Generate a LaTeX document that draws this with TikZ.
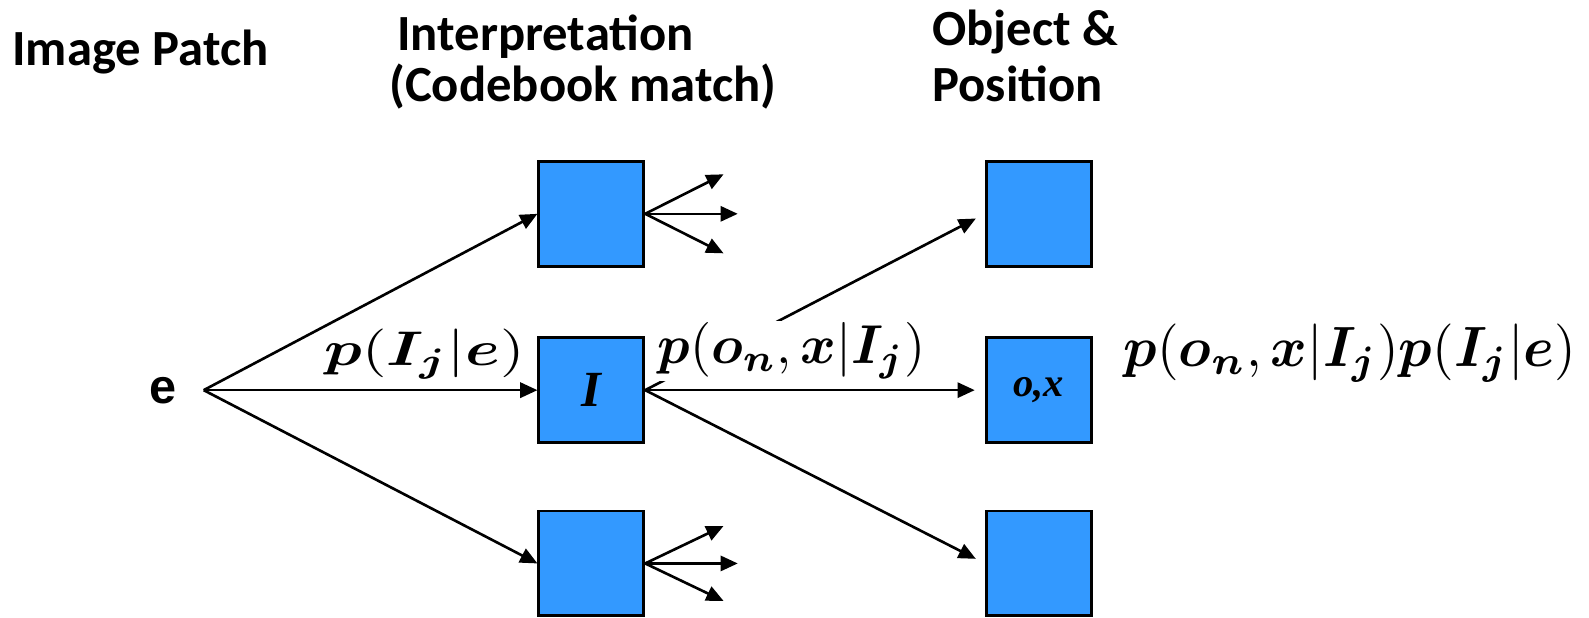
\documentclass[tikz,border=0pt]{standalone}
\usepackage{fontspec}
\usepackage{amsmath}
\usepackage{bm}
\usetikzlibrary{arrows.meta}

\newfontfamily\headfont{Carlito}
\newfontfamily\arialfont{Liberation Sans}
\newfontfamily\timesfont{Liberation Serif}

\definecolor{boxblue}{RGB}{51,153,255}

\tikzset{
  unit/.style={draw=black, line width=2.8pt, fill=boxblue, minimum size=103.5pt, inner sep=0pt},
  link/.style={line width=2.6pt, -{Triangle[length=17pt,width=15pt]}},
  head/.style={anchor=base west, inner sep=0pt, font=\headfont\bfseries\fontsize{50}{52}\selectfont},
  prob/.style={inner sep=0.3pt},
  boxlabel/.style={inner sep=0pt, font=\timesfont\bfseries\itshape},
}

\begin{document}
\begin{tikzpicture}[x=1pt,y=-1pt]
\useasboundingbox (0,0) rectangle (1568,609);

% column headings
\node[head] (hpatch) at (12,65) {Image Patch};
\node[head] (hinterpA) at (392,50) {Interpretation};
\node[head] (hinterpB) at (384,100) {(Codebook match)};
\node[head] (hobjA) at (920,45) {Object \&};
\node[head] (hobjB) at (920,100) {Position};

% input patch
\node[inner sep=0pt, font=\arialfont\bfseries\fontsize{48}{48}\selectfont] (e) at (161,385) {e};
\coordinate (eout) at (201,385);

% codebook entries
\node[unit] (i1) at (583.5,211) {};
\node[unit] (i2) at (583.5,385) {};
\node[boxlabel, font=\timesfont\bfseries\itshape\fontsize{50}{50}\selectfont] (ilab) at (i2) {I};
\node[unit] (i3) at (583.5,556) {};

% object / position hypotheses
\node[unit] (o1) at (1025,211) {};
\node[unit] (o2) at (1025,385) {};
\node[boxlabel, font=\timesfont\bfseries\itshape\fontsize{40}{40}\selectfont] (olab) at (o2) {o,x};
\node[unit] (o3) at (1025,556) {};

% fan-out stubs
\coordinate (f1a) at (714,172);
\coordinate (f1b) at (728,211);
\coordinate (f1c) at (714,250);
\coordinate (f3a) at (714,519);
\coordinate (f3b) at (728,556);
\coordinate (f3c) at (714,593);

% patch to interpretations
\draw[link] (eout) -- (i1.west);
\draw[link] (eout) -- (i2.west);
\draw[link] (eout) -- (i3.west);

% interpretation to object/position
\draw[link, shorten >=10pt] (i2.east) -- (o1.west);
\draw[link, shorten >=10pt] (i2.east) -- (o2.west);
\draw[link, shorten >=10pt] (i2.east) -- (o3.west);

\draw[link] (i1.east) -- (f1a);
\draw[link] (i1.east) -- (f1b);
\draw[link] (i1.east) -- (f1c);
\draw[link] (i3.east) -- (f3a);
\draw[link] (i3.east) -- (f3b);
\draw[link] (i3.east) -- (f3c);

% probabilities
\node[prob, xscale=6.2, yscale=4.8] (pie) at (419,349.5)
  {$\bm{p}(\bm{I}_{\bm{j}}|\bm{e})$};
\node[prob, fill=white, xscale=5.35, yscale=5.4] (pox) at (781,346)
  {$\bm{p}(\bm{o}_{\bm{n}},\bm{x}|\bm{I}_{\bm{j}})$};
\node[prob, xscale=5.5, yscale=5.6] (prod) at (1332,348.5)
  {$\bm{p}(\bm{o}_{\bm{n}},\bm{x}|\bm{I}_{\bm{j}})\bm{p}(\bm{I}_{\bm{j}}|\bm{e})$};
\end{tikzpicture}
\end{document}
